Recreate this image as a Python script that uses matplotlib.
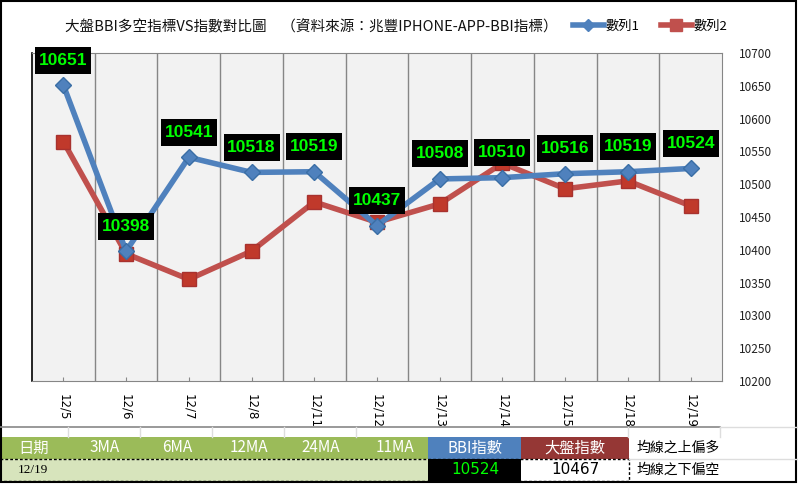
import numpy as np
import matplotlib
matplotlib.use('Agg')
import matplotlib.pyplot as plt
from matplotlib.patches import Rectangle
from matplotlib.lines import Line2D
from matplotlib.offsetbox import DrawingArea, AnnotationBbox

plt.rcParams['font.family'] = ['Noto Sans CJK TC', 'DejaVu Sans']

dates = ['12/5', '12/6', '12/7', '12/8', '12/11', '12/12', '12/13', '12/14', '12/15', '12/18', '12/19']
bbi = [10651, 10398, 10541, 10518, 10519, 10437, 10508, 10510, 10516, 10519, 10524]
index = [10565, 10394, 10355, 10398, 10473, 10442, 10470, 10532, 10493, 10505, 10467]
yticks = [10200, 10250, 10300, 10350, 10400, 10450, 10500, 10550, 10600, 10650, 10700]

title = '大盤BBI多空指標VS指數對比圖　（資料來源：兆豐IPHONE-APP-BBI指標）'
head_cols = ['日期', '3MA', '6MA', '12MA', '24MA', '11MA']
last_date = '12/19'
last_bbi = 10524
last_index = 10467

W, H = 798, 484
fig = plt.figure(figsize=(W / 100, H / 100), dpi=100)

# plot area in pixel coords
L, T, R, B = 32, 53, 722, 381
ax = fig.add_axes([L / W, 1 - B / H, (R - L) / W, (B - T) / H])
ax.set_facecolor('#F2F2F2')

x = np.arange(len(dates))
blue = '#4F81BD'
red = '#C0504D'
ax.plot(x, index, color=red, lw=4, marker='s', ms=10, mfc='#C0392B', mec='#A8322F', zorder=3)
ax.plot(x, bbi, color=blue, lw=4, marker='D', ms=8, mfc=blue, mec='#3A6EA5', zorder=4)

# black label boxes, 56x27 px (drawing area works in points)
bw, bh = 56 * 0.72, 27 * 0.72
for xi, v in zip(x, bbi):
    da = DrawingArea(bw, bh, 0, 0)
    da.add_artist(Rectangle((0, 0), bw, bh, fc='black', ec='none'))
    ab = AnnotationBbox(da, (xi, v), xybox=(0, 25), boxcoords='offset pixels',
                        frameon=False, pad=0, box_alignment=(0.5, 0.5),
                        annotation_clip=False, zorder=5)
    ax.add_artist(ab)
    ax.annotate(str(v), (xi, v), xytext=(0, 25), textcoords='offset pixels',
                ha='center', va='center', fontsize=12.5, fontweight='bold',
                color='#00FF00', family='Liberation Sans', zorder=6, annotation_clip=False)

ax.set_xlim(-0.5, len(dates) - 0.5)
ax.set_ylim(10200, 10700)
ax.set_yticks(yticks)
ax.yaxis.tick_right()
ax.tick_params(axis='y', length=0, pad=12, labelsize=8.5, labelcolor='#222222')
ax.set_xticks(x)
ax.set_xticklabels(dates, rotation=-90, fontsize=8.5, family='DejaVu Sans')
ax.tick_params(axis='x', direction='in', length=3, color='#888888', pad=9)
for b in np.arange(0.5, len(dates) - 0.5, 1):
    ax.axvline(b, color='#868686', lw=1, zorder=1)
for s in ['top', 'right', 'bottom']:
    ax.spines[s].set_color('#868686')
ax.spines['left'].set_color('black')
ax.spines['left'].set_linewidth(1.2)

fig.text(65 / W, 1 - 27 / H, title, fontsize=10.5, ha='left', va='center', color='#111111')

handles = [Line2D([], [], color=blue, lw=4, marker='D', ms=6),
           Line2D([], [], color=red, lw=4, marker='s', ms=8)]
fig.legend(handles, ['數列1', '數列2'], loc='center', bbox_to_anchor=(650 / W, 1 - 26 / H),
           ncol=2, frameon=False, fontsize=9.5, handlelength=2.4, columnspacing=1.6,
           handletextpad=0.1)

# spreadsheet table below the chart
tb = fig.add_axes([0, 0, 1, 1], zorder=-1)
tb.set_xlim(0, W)
tb.set_ylim(H, 0)
tb.axis('off')
tb.plot([0, 720], [427, 427], color='#888888', lw=1.2)
tb.plot([720, W], [427, 427], color='#DDDDDD', lw=1)
for cx in [68, 140, 212, 284, 356, 628, 720]:
    tb.plot([cx, cx], [427, 437], color='#DDDDDD', lw=1)

tb.add_patch(Rectangle((0, 437), 428, 22, fc='#9BBB59', ec='none'))
tb.add_patch(Rectangle((428, 437), 93, 22, fc='#4F81BD', ec='none'))
tb.add_patch(Rectangle((521, 437), 108, 22, fc='#953735', ec='none'))
tb.add_patch(Rectangle((0, 459), 428, 22, fc='#D7E4BC', ec='none'))
tb.add_patch(Rectangle((428, 459), 93, 22, fc='black', ec='none'))
tb.add_patch(Rectangle((521, 459), 108, 22, fc='white', ec='none'))
tb.plot([0, 629, 629, 0], [459, 459, 481, 481], color='black', lw=1, ls=(0, (2, 1.5)))
tb.plot([629, W], [459, 459], color='#DDDDDD', lw=1)

tb.text(18, 448, head_cols[0], color='white', fontsize=11, va='center', ha='left')
for cx, t in zip([105, 177, 249, 321, 395], head_cols[1:]):
    tb.text(cx, 448, t, color='white', fontsize=11, va='center', ha='center')
tb.text(475, 448, 'BBI指數', color='white', fontsize=11, va='center', ha='center')
tb.text(575, 448, '大盤指數', color='white', fontsize=11, va='center', ha='center')
tb.text(637, 448, '均線之上偏多', color='black', fontsize=10, va='center', ha='left')
tb.text(637, 470, '均線之下偏空', color='black', fontsize=10, va='center', ha='left')
tb.text(18, 470, last_date, color='black', fontsize=9.5, va='center', ha='left',
        family='Liberation Serif')
tb.text(475, 470, str(last_bbi), color='#00FF00', fontsize=11, va='center', ha='center',
        family='DejaVu Sans')
tb.text(575, 470, str(last_index), color='black', fontsize=11, va='center', ha='center',
        family='DejaVu Sans')

# outer border
tb.add_patch(Rectangle((1, 1), W - 3, H - 3, fc='none', ec='black', lw=1.5))

fig.savefig('out.png', dpi=100)
